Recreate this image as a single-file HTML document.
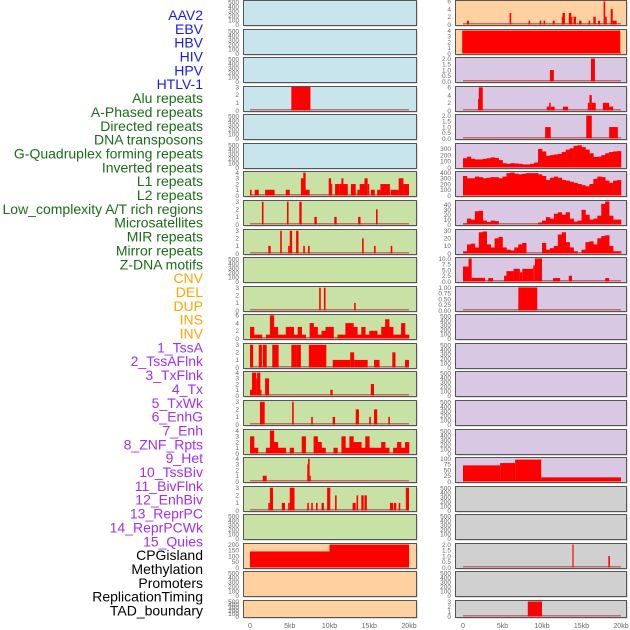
<!DOCTYPE html>
<html><head><meta charset="utf-8"><style>
html,body{margin:0;padding:0;background:#fff;width:630px;height:630px;overflow:hidden}
svg{display:block}
</style></head><body>
<svg id="chart" width="630" height="630" viewBox="0 0 630 630" xmlns="http://www.w3.org/2000/svg"></svg>
<script>
// ---------- data ----------
const labelNames = ["AAV2","EBV","HBV","HIV","HPV","HTLV-1","Alu repeats","A-Phased repeats","Directed repeats","DNA transposons","G-Quadruplex forming repeats","Inverted repeats","L1 repeats","L2 repeats","Low_complexity A/T rich regions","Microsatellites","MIR repeats","Mirror repeats","Z-DNA motifs","CNV","DEL","DUP","INS","INV","1_TssA","2_TssAFlnk","3_TxFlnk","4_Tx","5_TxWk","6_EnhG","7_Enh","8_ZNF_Rpts","9_Het","10_TssBiv","11_BivFlnk","12_EnhBiv","13_ReprPC","14_ReprPCWk","15_Quies","CPGisland","Methylation","Promoters","ReplicationTiming","TAD_boundary"];
const labelGroups = [6,13,5,15,5];
const groupColors = ["#1a1aee","#1b6b1b","#ffa500","#a030f0","#000000"];
const xTickLabels = ["0","5kb","10kb","15kb","20kb"];
const xTickValues = [0,5,10,15,20];

// interval data: [startKb, endKb, value]
const leftAlu = [[5.2,7.6,3]];
const leftL1 = [[0,0.2,1],[0.6,1.1,1],[1.9,3.1,1],[4.5,5,1],[6.4,6.9,3],[6.7,7.0,4],[6.9,7.5,1],[9.9,10.2,3],[10.2,10.35,2],[10.7,11.3,2],[11.3,12.3,2],[11.5,11.75,3],[12.7,13.3,2],[13.5,13.8,1],[13.8,14.4,2],[14.4,14.8,3],[14.8,15,2],[15.2,15.7,1],[16,16.4,1],[16.4,17.6,2],[17.7,18.7,1],[18.7,19.3,3],[19.3,20,2]];
const leftLowComplex = [[1.5,1.7,3],[4.65,4.85,3],[6.2,6.5,3],[8.1,8.4,1],[10.6,10.9,1],[13.6,13.9,1],[15.85,16.05,2]];
const leftMIR = [[2.3,2.6,1],[3.8,4.0,3],[4.8,5.0,1],[5.0,5.3,3],[5.8,6.1,3],[6.7,6.9,1],[7.3,7.5,1],[14.1,14.3,2],[15.6,15.8,1],[17.7,17.9,1]];
const leftDEL = [[8.7,8.9,3],[9.3,9.5,3],[13.1,13.3,1]];
const leftTssA = [[0,0.4,3],[1.1,1.5,3],[1.6,2.1,3],[2.8,3.6,3],[5.2,5.9,3],[5.9,6.4,3],[7.4,9.6,3],[10.4,12.6,1],[12.6,13.1,2],[13.1,14.8,1],[15.6,16.3,1],[17.9,18.3,2],[19.5,20,1]];
const leftTxFlnk = [[0,0.25,1],[0.25,0.8,4],[0.8,0.9,3],[0.9,1.3,4],[1.3,1.45,1],[1.9,2.4,3],[10.1,10.4,1],[15.2,15.6,2]];
const leftTxWk = [[1.25,1.85,3],[5.3,5.5,3],[7.7,7.9,1],[10.4,10.7,1],[13.3,13.7,2],[15,15.2,1],[15.6,16,2],[17.4,17.6,1]];
const leftHet = [[1.6,2.1,1],[7.2,7.3,3],[7.3,7.5,4],[7.5,7.65,1]];
const leftBivFlnk = [[2.3,2.5,1],[2.5,2.9,3],[4,4.4,1],[4.8,5,1],[5,5.6,3],[7.2,7.4,1],[7.7,7.9,1],[8.3,8.5,1],[9.0,9.3,1],[9.7,10.1,3],[10.7,10.9,2],[12.9,13.3,1],[13.4,13.6,2],[14.0,14.3,2],[14.4,14.7,2],[17.6,18,1],[18.1,18.4,1],[18.7,18.9,1],[19.6,20,3]];
const leftCpG = [[0,10,140],[10,20,200]];
// binned series (0.5kb bins, 40 values)
const leftINS = [3,1,1,0,1,6,3,1,1,3,3,1,3,1,0,4,3,1,2,3,3,0,1,1,4,4,3,1,3,1,2,2,1,3,5,3,1,1,4,1];
const leftEnh = [3,1,0,0,1,4,2,1,1,0,1,0,0,3,0,0,3,2,1,0,0,1,0,3,1,3,2,2,1,3,1,1,1,2,1,0,1,2,1,2];

const rightAAV2 = [[0.5,0.75,1],[5.9,6.1,3],[8.3,8.5,1],[9.7,9.9,1],[10.2,10.4,1],[11.35,11.6,1],[12.5,12.6,2],[12.6,12.9,3],[13.4,13.7,3],[13.7,13.85,2],[14,14.3,2],[14.7,15,1],[15.9,16.1,1],[16.5,16.8,2],[17.1,17.35,1],[17.8,18,6],[18,18.2,2],[18.7,18.95,4],[18.95,19.45,1]];
const rightEBV = [[-0.1,19.9,4]];
const rightHIV = [[11,11.5,1],[16.2,16.7,2]];
const rightHPV = [[1.9,2.0,3],[2.0,2.5,6],[10.6,10.9,1],[10.9,11.1,2],[11.1,11.6,1],[12.65,13.3,1],[15.8,16.0,2],[16.0,16.3,4],[16.3,16.8,2],[17.7,18.5,2],[18.5,19.0,1]];
const rightHTLV = [[10.4,11.1,1],[15.6,16.3,2],[18.5,19.6,1]];
const rightZDNA = [[0,0.7,6.5],[0.7,1.1,10],[1.1,2.8,1.6],[3.2,3.8,1.5],[5.2,5.5,2.5],[5.5,6.4,4.5],[6.4,7.2,5.5],[7.2,7.5,4],[7.5,8.9,5.5],[8.9,9.1,7],[9.1,10,10],[11.4,12.3,1.5],[13.4,13.8,2.5],[18,18.5,1.5]];
const rightDEL = [[7.0,9.4,1]];
const rightHet = [[0,4.7,70],[4.7,6.6,80],[6.6,9.9,95],[9.9,20,18]];
const rightCpG = [[13.85,14.0,2],[18.4,18.6,1]];
const rightTAD = [[8.2,10,3]];
const rightGQuad = [150,175,140,130,130,140,150,165,155,120,70,60,70,65,60,50,50,60,80,300,260,190,200,210,220,250,290,310,350,360,330,290,230,170,175,200,230,250,260,265];
const rightL1 = [340,300,300,330,320,300,310,320,320,300,330,390,400,380,370,380,390,390,390,370,340,270,310,330,310,270,260,240,220,200,180,160,200,290,330,320,260,220,260,270];
const rightLowComplex = [2,12,10,27,28,8,5,8,7,0,0,0,0,0,0,0,0,0,0,4,8,15,12,22,25,20,25,12,6,8,30,20,10,12,18,42,47,18,10,10];
const rightMIR = [3,12,13,8,28,29,12,8,20,22,8,5,4,8,12,14,0,0,0,0,14,5,7,10,25,28,15,8,3,0,5,15,16,12,20,23,24,10,3,3];

const T500 = ["0","100","200","300","400","500"];
const BLUE="#c8e4ec", GREEN="#c8e1a5", ORANGE="#ffd1a1", PURPLE="#d8c8e3", GRAY="#d0d0d0";

// panel spec: [row, side, bg, tickLabels, tickValues, ymax, intervals, bins, name]
const panels = [];
function P(row, side, bg, tl, tv, ymax, iv, bins, name){ panels.push({row,side,bg,tl,tv,ymax,iv,bins,name}); }
const t500v=[0,100,200,300,400,500];
// left
for (let r of [0,1,2,4,5]) P(r,'L',BLUE,T500,t500v,530,null,null,'left-panel-'+r);
P(3,'L',BLUE,["0","1","2","3"],[0,1,2,3],3,leftAlu,null,'left-alu');
P(6,'L',GREEN,["0","1","2","3","4"],[0,1,2,3,4],4.1,leftL1,null,'left-l1');
P(7,'L',GREEN,["0","1","2","3"],[0,1,2,3],3.1,leftLowComplex,null,'left-low-complexity');
P(8,'L',GREEN,["0","1","2","3"],[0,1,2,3],3.1,leftMIR,null,'left-mir');
P(9,'L',GREEN,T500,t500v,530,null,null,'left-zdna');
P(10,'L',GREEN,["0","1","2","3"],[0,1,2,3],3.1,leftDEL,null,'left-del');
P(11,'L',GREEN,["0","2","4","6"],[0,2,4,6],6.1,null,leftINS,'left-ins');
P(12,'L',GREEN,["0","1","2","3"],[0,1,2,3],3.1,leftTssA,null,'left-tssa');
P(13,'L',GREEN,["0","1","2","3","4"],[0,1,2,3,4],4.1,leftTxFlnk,null,'left-txflnk');
P(14,'L',GREEN,["0","1","2","3"],[0,1,2,3],3.1,leftTxWk,null,'left-txwk');
P(15,'L',GREEN,["0","1","2","3","4"],[0,1,2,3,4],4.1,null,leftEnh,'left-enh');
P(16,'L',GREEN,["0","1","2","3","4"],[0,1,2,3,4],4.1,leftHet,null,'left-het');
P(17,'L',GREEN,["0","1","2","3"],[0,1,2,3],3.1,leftBivFlnk,null,'left-bivflnk');
P(18,'L',GREEN,T500,t500v,530,null,null,'left-reprpc');
P(19,'L',ORANGE,["0","50","100","150","200"],[0,50,100,150,200],205,leftCpG,null,'left-cpgisland');
P(20,'L',ORANGE,T500,t500v,530,null,null,'left-promoters');
P(21,'L',ORANGE,T500,t500v,530,null,null,'left-tad');
// right
P(0,'R',ORANGE,["0","2","4","6"],[0,2,4,6],6.1,rightAAV2,null,'right-aav2');
P(1,'R',ORANGE,["0","1","2","3","4"],[0,1,2,3,4],4.1,rightEBV,null,'right-ebv');
P(2,'R',PURPLE,["0.0","0.5","1.0","1.5","2.0"],[0,.5,1,1.5,2],2.05,rightHIV,null,'right-hiv');
P(3,'R',PURPLE,["0","2","4","6"],[0,2,4,6],6.1,rightHPV,null,'right-hpv');
P(4,'R',PURPLE,["0.0","0.5","1.0","1.5","2.0"],[0,.5,1,1.5,2],2.05,rightHTLV,null,'right-htlv');
P(5,'R',PURPLE,["0","100","200","300"],[0,100,200,300],380,null,rightGQuad,'right-gquad');
P(6,'R',PURPLE,["0","100","200","300","400"],[0,100,200,300,400],410,null,rightL1,'right-l1');
P(7,'R',PURPLE,["0","10","20","30","40"],[0,10,20,30,40],48,null,rightLowComplex,'right-low-complexity');
P(8,'R',PURPLE,["0","10","20","30"],[0,10,20,30],31,null,rightMIR,'right-mir');
P(9,'R',PURPLE,["0.0","2.5","5.0","7.5","10.0"],[0,2.5,5,7.5,10],10.2,rightZDNA,null,'right-zdna');
P(10,'R',PURPLE,["0.00","0.25","0.50","0.75","1.00"],[0,.25,.5,.75,1],1.02,rightDEL,null,'right-del');
for (let r of [11,12,13,14,15]) P(r,'R',PURPLE,T500,t500v,530,null,null,'right-panel-'+r);
P(16,'R',PURPLE,["0","25","50","75","100"],[0,25,50,75,100],102,rightHet,null,'right-het');
for (let r of [17,18,20]) P(r,'R',GRAY,T500,t500v,530,null,null,'right-panel-'+r);
P(19,'R',GRAY,["0.0","0.5","1.0","1.5","2.0"],[0,.5,1,1.5,2],2.05,rightCpG,null,'right-cpgisland');
P(21,'R',GRAY,["0","1","2","3"],[0,1,2,3],3.1,rightTAD,null,'right-tad');

// ---------- drawing ----------
const svg = document.getElementById('chart');
const NS = "http://www.w3.org/2000/svg";
function mk(tag, attrs, parent){ const e=document.createElementNS(NS,tag); for(const k in attrs) e.setAttribute(k,attrs[k]); (parent||svg).appendChild(e); return e; }

// labels
let li=0;
const labelY0=15.5, labelStep=(611-15.5)/43;
labelGroups.forEach((n,g)=>{
  for(let k=0;k<n;k++){
    const t=mk('text',{x:203,y:labelY0+li*labelStep+4.5,'text-anchor':'end','font-family':'Liberation Sans, sans-serif','font-size':'14',fill:groupColors[g]});
    t.textContent=labelNames[li];
    
    
    li++;
  }
});

const sides = {L:{x0:243,x1:416,k0:250,k20:409,tx:239}, R:{x0:455,x1:626,k0:463,k20:621,tx:451}};
function rowTop(r){ return Math.round(r*28.57); }
function rowH(r){ return r===21?17:25; }

panels.forEach(p=>{
  const s=sides[p.side], top=rowTop(p.row), h=rowH(p.row);
  const g=mk('g',{});
  
  
  mk('rect',{x:s.x0+1.5,y:top+1.5,width:s.x1-s.x0,height:h,fill:'#bbb'},g);
  mk('rect',{x:s.x0+0.5,y:top+0.5,width:s.x1-s.x0,height:h,fill:p.bg,stroke:'#555','stroke-width':1},g);
  const yb=top+h-0.5, yt=top+1;
  const ys=v=>yb-(v/p.ymax)*(yb-yt);
  const xs=kb=>s.k0+(kb/20)*(s.k20-s.k0);
  // ticks
  p.tl.forEach((lab,i)=>{
    const t=mk('text',{x:s.tx,y:ys(p.tv[i])+2.3,'text-anchor':'end','font-family':'Liberation Sans, sans-serif','font-size':'6.5',fill:'#666'},g);
    t.textContent=lab;
    
    
  });
  const hasData = p.iv||p.bins;
  if(hasData){
    const bl=mk('rect',{x:xs(0),y:yb-1.5,width:xs(20)-xs(0),height:1.5,fill:'#c05050',opacity:0.8},g);
    
    
  }
  if(p.iv){
    p.iv.forEach(d=>{
      const r=mk('rect',{x:xs(d[0]),y:ys(d[2]),width:Math.max(1,xs(d[1])-xs(d[0])),height:yb-ys(d[2]),fill:'#ff0000'},g);
      
      
    });
  }
  if(p.bins){
    const w=20/p.bins.length;
    p.bins.forEach((v,i)=>{
      if(v<=0) return;
      const r=mk('rect',{x:xs(i*w),y:ys(v),width:xs((i+1)*w)-xs(i*w)+0.3,height:yb-ys(v),fill:'#ff0000'},g);
      
      
    });
  }
});

// x axes
['L','R'].forEach(sd=>{
  const s=sides[sd];
  xTickValues.forEach((v,i)=>{
    const t=mk('text',{x:s.k0+(v/20)*(s.k20-s.k0),y:628,'text-anchor':'middle','font-family':'Liberation Sans, sans-serif','font-size':'7',fill:'#666'});
    t.textContent=xTickLabels[i];
    
    
  });
});
</script>
</body></html>
